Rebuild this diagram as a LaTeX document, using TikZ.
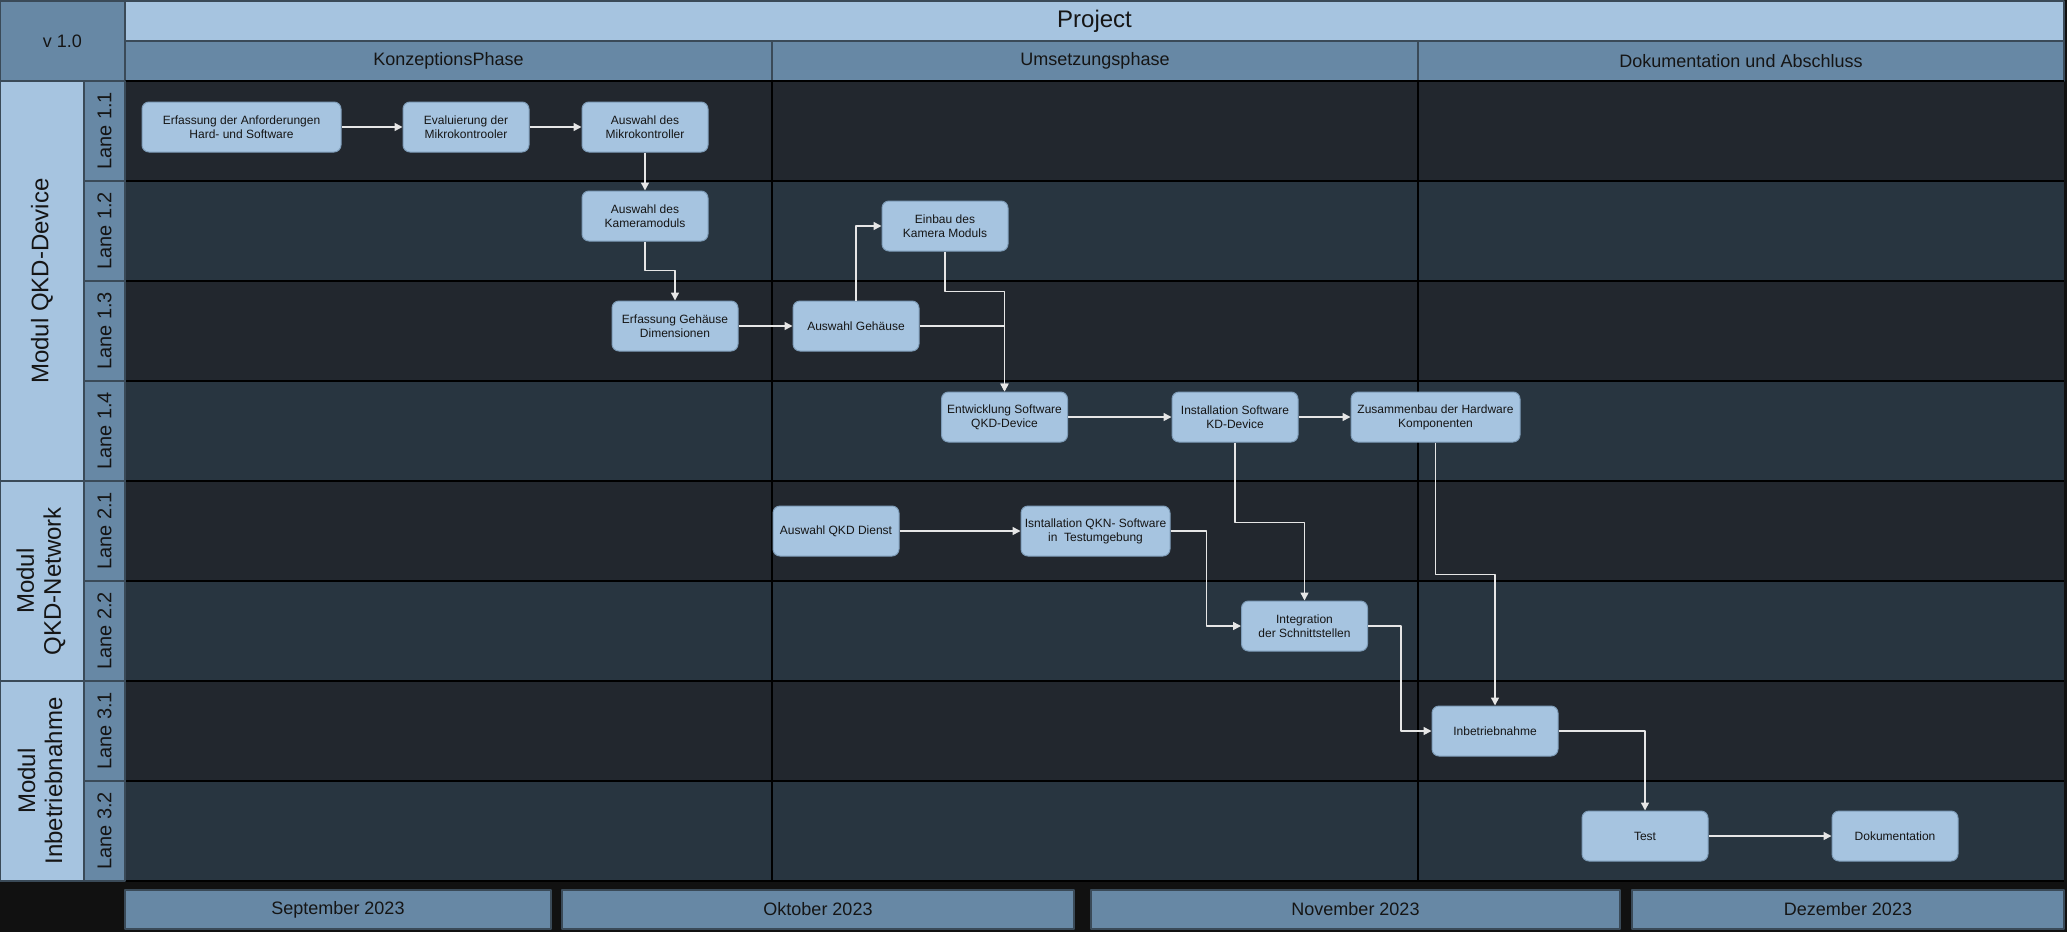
\documentclass[tikz,border=0pt]{standalone}
\usepackage{fontspec}
\setmainfont{Liberation Sans}
\usetikzlibrary{arrows.meta, positioning}

\definecolor{bgblack}{HTML}{111111}
\definecolor{hdrlight}{HTML}{A6C4E0}
\definecolor{hdrmid}{HTML}{6788A5}
\definecolor{hdrline}{HTML}{3A4A58}
\definecolor{laneodd}{HTML}{22272E}
\definecolor{laneeven}{HTML}{283540}
\definecolor{taskfill}{HTML}{A6C4E0}
\definecolor{taskline}{HTML}{7F9DB9}
\definecolor{flowline}{HTML}{E6E6E6}
\definecolor{txtdark}{HTML}{151515}

\begin{document}
\begin{tikzpicture}[x=1pt, y=-1pt, line join=round]
	
	\tikzset{
		hdr/.style={draw=hdrline, line width=1.5pt, fill=hdrmid},
		hdrtxt/.style={text=txtdark, inner sep=0pt, font=\fontsize{18}{22}\selectfont},
		modtxt/.style={rotate=90, align=center, text=txtdark, font=\fontsize{24}{27}\selectfont},
		lanetxt/.style={rotate=90, text=txtdark, inner sep=0pt, font=\fontsize{20}{22}\selectfont},
		task/.style={draw=taskline, line width=1pt, fill=taskfill, rounded corners=7pt,
			minimum width=126pt, minimum height=50pt, inner sep=2pt, align=center,
			text=txtdark, font=\fontsize{12}{14}\selectfont},
		flow/.style={draw=flowline, line width=1.5pt, -{Triangle[length=8pt, width=8pt]}},
		sep/.style={draw=black, line width=2.5pt}
	}
	
	\useasboundingbox (0,0) rectangle (2067,932);
	\fill[bgblack] (0,0) rectangle (2067,932);
	
	% header
	\draw[hdr] (0,1) rectangle (125,81);
	\node[hdrtxt] (version) at (62.5,41) {v 1.0};
	\draw[hdr, fill=hdrlight] (125,1) rectangle (2064,41);
	\node[hdrtxt, font=\fontsize{24}{28}\selectfont] (project) at (1094.5,21) {Project};
	\foreach \xa/\xb/\name/\txt in {125/772/phKonz/KonzeptionsPhase, 772/1418/phUms/Umsetzungsphase, 1418/2064/phDoku/Dokumentation und Abschluss}{
		\draw[hdr] (\xa,41) rectangle (\xb,81);
		\node[hdrtxt] (\name) at ({(\xa+\xb)/2},61) {\txt};
	}
	
	% lanes
	\foreach \k/\col in {0/laneodd,1/laneeven,2/laneodd,3/laneeven,4/laneodd,5/laneeven,6/laneodd,7/laneeven}
		\fill[\col] (125,{81+100*\k}) rectangle (2064,{181+100*\k});
	\foreach \yy in {81,181,...,881}
		\draw[sep] (125,\yy) -- (2064,\yy);
	\foreach \xx in {125,772,1418}
		\draw[sep] (\xx,81) -- (\xx,881);
	
	\foreach \lbl [count=\k from 0] in {1.1,1.2,1.3,1.4,2.1,2.2,3.1,3.2}{
		\draw[hdr] (84,{81+100*\k}) rectangle (125,{181+100*\k});
		\node[lanetxt] (lane\k) at (104.5,{131+100*\k}) {Lane \lbl};
	}
	
	% modules
	\draw[hdr, fill=hdrlight] (0,81) rectangle (84,481);
	\draw[hdr, fill=hdrlight] (0,481) rectangle (84,681);
	\draw[hdr, fill=hdrlight] (0,681) rectangle (84,881);
	\node[modtxt] (modDev) at (42,281) {Modul QKD-Device};
	\node[modtxt] (modNet) at (41,581) {Modul\\QKD-Network};
	\node[modtxt] (modInb) at (40,781) {Modul\\Inbetriebnahme};
	
	% months
	\foreach \xa/\xb/\name/\txt in {125/551/mSep/September 2023, 562/1074/mOkt/Oktober 2023, 1091/1620/mNov/November 2023, 1632/2064/mDez/Dezember 2023}{
		\draw[hdr] (\xa,890) rectangle (\xb,929);
		\node[hdrtxt] (\name) at ({(\xa+\xb)/2},909.5) {\txt};
	}
	
	% tasks
	\node[task, minimum width=199pt] (erfAnf) at (241.5,127) {Erfassung der Anforderungen\\Hard- und Software};
	\node[task] (evalMk) at (466,127) {Evaluierung der\\Mikrokontrooler};
	\node[task] (auswMk) at (645,127) {Auswahl des\\Mikrokontroller};
	\node[task] (auswKam) at (645,216) {Auswahl des\\Kameramoduls};
	\node[task] (erfGeh) at (675,326) {Erfassung Gehäuse\\Dimensionen};
	\node[task] (auswGeh) at (856,326) {Auswahl Gehäuse};
	\node[task] (einbKam) at (945,226) {Einbau des\\Kamera Moduls};
	\node[task] (entwSw) at (1004.5,417) {Entwicklung Software\\QKD-Device};
	\node[task] (instSw) at (1235,417) {Installation Software\\KD-Device};
	\node[task, minimum width=169pt] (zusHw) at (1435.5,417) {Zusammenbau der Hardware\\Komponenten};
	\node[task] (auswQkd) at (836,531) {Auswahl QKD Dienst};
	\node[task, minimum width=149pt] (instQkn) at (1095.5,531) {Isntallation QKN- Software\\in~ Testumgebung};
	\node[task] (integr) at (1304.5,626) {Integration\\der Schnittstellen};
	\node[task] (inbetr) at (1495,731) {Inbetriebnahme};
	\node[task] (test) at (1645,836) {Test};
	\node[task] (doku) at (1895,836) {Dokumentation};
	
	% flows
	\draw[flow] (erfAnf) -- (evalMk);
	\draw[flow] (evalMk) -- (auswMk);
	\draw[flow] (auswMk) -- (auswKam);
	\draw[flow] (auswKam.south) -- ++(0,29) -| (erfGeh.north);
	\draw[flow] (erfGeh) -- (auswGeh);
	\draw[flow] (auswGeh.north) |- (einbKam.west);
	\draw[flow] (einbKam.south) -- ++(0,40) -| (entwSw.north);
	\draw[flow] (auswGeh.east) -| (entwSw.north);
	\draw[flow] (entwSw) -- (instSw);
	\draw[flow] (instSw) -- (zusHw);
	\draw[flow] (instSw.south) -- ++(0,80) -| (integr.north);
	\draw[flow] (zusHw.south) -- ++(0,132) -| (inbetr.north);
	\draw[flow] (auswQkd) -- (instQkn);
	\draw[flow] (instQkn.east) -- ++(36,0) |- (integr.west);
	\draw[flow] (integr.east) -- ++(33,0) |- (inbetr.west);
	\draw[flow] (inbetr.east) -| (test.north);
	\draw[flow] (test) -- (doku);
	
\end{tikzpicture}
\end{document}
